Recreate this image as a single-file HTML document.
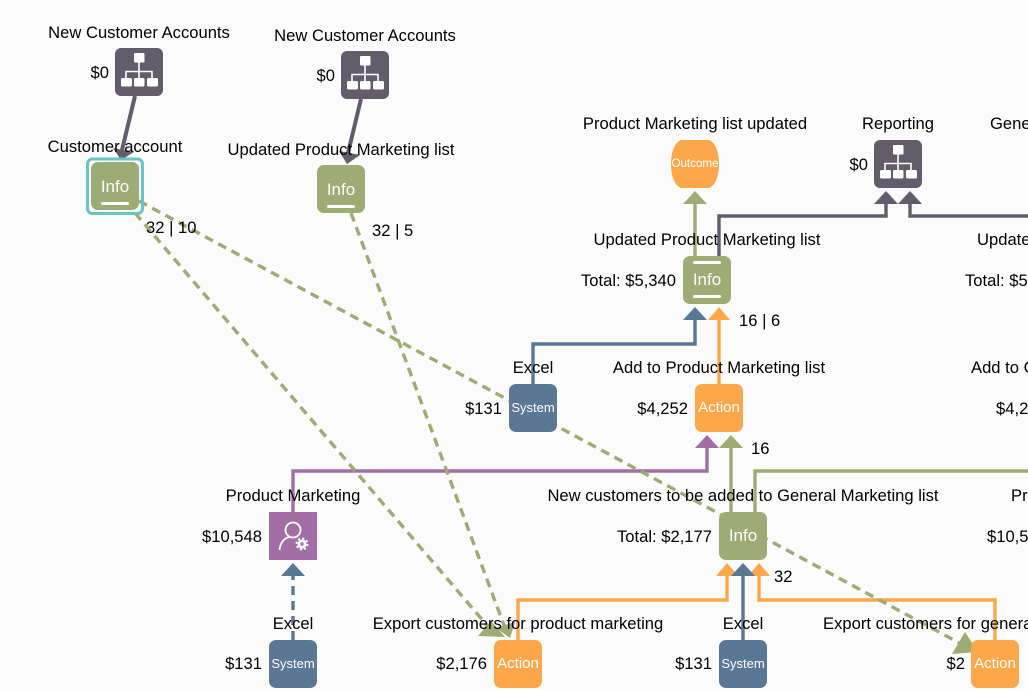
<!DOCTYPE html>
<html><head><meta charset="utf-8"><style>
html,body{margin:0;padding:0;background:#fbfbfb;width:1028px;height:691px;overflow:hidden}
svg{display:block}
text{font-family:"Liberation Sans",Arial,sans-serif;font-size:16.6px;fill:#000}
.m{text-anchor:middle}.e{text-anchor:end}
.w{fill:#fff;text-anchor:middle}
.l{fill:none;stroke-width:3.4}
.d{fill:none;stroke:#9dac75;stroke-width:3.4;stroke-dasharray:9 6}
</style></head><body>
<svg width="1028" height="691" viewBox="0 0 1028 691" xmlns="http://www.w3.org/2000/svg">
<defs>
<g id="h"><rect width="48" height="48" rx="6" fill="#635d6b"/>
<path d="M24 14V30M11 31V23.5H37V31" fill="none" stroke="#fff" stroke-width="1.6"/>
<g fill="#fff"><rect x="19" y="5" width="10.500" height="9.500" rx="1"/><rect x="6" y="30" width="11" height="8.500" rx="1.500"/><rect x="19" y="30" width="10.500" height="8.500" rx="1.500"/><rect x="32" y="30" width="11" height="8.500" rx="1.500"/></g></g>
</defs>
<!-- solid connectors -->
<g class="l">
<path d="M135 96L122 150" stroke="#635d6b" style="stroke-width:4" fill="none"/>
<path d="M361 99L348 153" stroke="#635d6b" style="stroke-width:4" fill="none"/>
<path d="M695 256V203" stroke="#9dac75" fill="none"/>
<path d="M719 256V216H886V203M1028 216H910V203" stroke="#635d6b" fill="none"/>
<path d="M533 384V344H695V319" stroke="#587896" fill="none"/>
<path d="M719 384V319" stroke="#fda74b" fill="none"/>
<path d="M293 512V471H707V447" stroke="#a26ea5" fill="none"/>
<path d="M731 512V447" stroke="#9dac75" fill="none"/>
<path d="M755 512V471H1028" stroke="#9dac75" fill="none"/>
<path d="M518 640V600H727V575" stroke="#fda74b" fill="none"/>
<path d="M743 640V575" stroke="#587896" fill="none"/>
<path d="M995 640V600H759V575" stroke="#fda74b" fill="none"/>
<path d="M293 640V575" stroke="#587896" fill="none" stroke-dasharray="9 6"/>
</g>
<!-- dashed connectors -->
<path class="d" d="M139 201L963 645"/>
<path class="d" d="M135 213L491 630"/>
<path class="d" d="M351 213L505 628"/>
<!-- arrowheads -->
<polygon points="113,148 134,152 121,160" fill="#635d6b"/>
<polygon points="339,151 360,155 347,164" fill="#635d6b"/>
<polygon points="695,191 707,204 683,204" fill="#9dac75"/>
<polygon points="886,191 898,204 874,204" fill="#635d6b"/>
<polygon points="910,191 922,204 898,204" fill="#635d6b"/>
<polygon points="695,307 707,320 683,320" fill="#587896"/>
<polygon points="719,307 730,320 708,320" fill="#fda74b"/>
<polygon points="707,435 719,448 695,448" fill="#a26ea5"/>
<polygon points="731,435 743,448 719,448" fill="#9dac75"/>
<polygon points="293,563 305,576 281,576" fill="#587896"/>
<polygon points="727,563 738,576 716,576" fill="#fda74b"/>
<polygon points="759,563 770,576 748,576" fill="#fda74b"/>
<polygon points="743,563 755,576 731,576" fill="#587896"/>
<polygon points="478,636 491,621 505,637" fill="#9dac75"/>
<polygon points="496,628 515,622 510,638" fill="#9dac75"/>
<polygon points="965,632 952,654 978,652" fill="#9dac75"/>
<!-- nodes -->
<use href="#h" x="115" y="48"/>
<use href="#h" x="341" y="51"/>
<use href="#h" x="874" y="140"/>
<rect x="87.500" y="159" width="55" height="54.500" rx="5" fill="none" stroke="#67c6c4" stroke-width="3"/>
<rect x="91" y="162" width="48" height="48" rx="7" fill="#9dac75"/>
<rect x="101" y="202" width="28" height="3" rx="1.500" fill="#fff"/>
<text class="w" x="115" y="192" style="font-size:17px">Info</text>
<rect x="317" y="165" width="48" height="48" rx="7" fill="#9dac75"/>
<rect x="327" y="205" width="28" height="3" rx="1.500" fill="#fff"/>
<text class="w" x="341" y="195" style="font-size:17px">Info</text>
<path d="M681 140H709C716 143 719 153 719 164C719 175 716 185 709 188H681C674 185 671 175 671 164C671 153 674 143 681 140Z" fill="#fda74b"/>
<text class="w" x="695" y="167" style="font-size:11.6px">Outcome</text>
<rect x="683" y="256" width="48" height="48" rx="7" fill="#9dac75"/>
<rect x="693" y="261" width="28" height="3" rx="1.500" fill="#fff"/>
<rect x="693" y="295" width="28" height="3" rx="1.500" fill="#fff"/>
<text class="w" x="707" y="285" style="font-size:17px">Info</text>
<rect x="509" y="384" width="48" height="48" rx="7" fill="#587896"/>
<text class="w" x="533" y="412" style="font-size:13px">System</text>
<rect x="695" y="384" width="48" height="48" rx="7" fill="#fda74b"/>
<text class="w" x="719" y="412" style="font-size:15px">Action</text>
<rect x="269" y="512" width="48" height="48" fill="#a26ea5"/>
<circle cx="293" cy="530" r="7.500" fill="none" stroke="#fff" stroke-width="1.800"/>
<path d="M279.500 550C280 543 284 538.500 289 537" fill="none" stroke="#fff" stroke-width="1.800"/>
<circle cx="302" cy="544" r="4.600" fill="#fff"/>
<circle cx="302" cy="544" r="5.600" fill="none" stroke="#fff" stroke-width="1.800" stroke-dasharray="2.200 2.200"/>
<circle cx="302" cy="544" r="1.700" fill="#a26ea5"/>
<rect x="719" y="512" width="48" height="48" rx="7" fill="#9dac75"/>
<text class="w" x="743" y="541" style="font-size:17px">Info</text>
<rect x="269" y="640" width="48" height="48" rx="7" fill="#587896"/>
<text class="w" x="293" y="668" style="font-size:13px">System</text>
<rect x="494" y="640" width="48" height="48" rx="7" fill="#fda74b"/>
<text class="w" x="518" y="668" style="font-size:15px">Action</text>
<rect x="719" y="640" width="48" height="48" rx="7" fill="#587896"/>
<text class="w" x="743" y="668" style="font-size:13px">System</text>
<rect x="971" y="640" width="48" height="48" rx="7" fill="#fda74b"/>
<text class="w" x="995" y="668" style="font-size:15px">Action</text>
<!-- labels -->
<text class="m" x="139" y="38">New Customer Accounts</text>
<text class="e" x="109" y="78">$0</text>
<text class="m" x="365" y="41">New Customer Accounts</text>
<text class="e" x="335" y="81">$0</text>
<text class="m" x="115" y="152">Customer account</text>
<text class="m" x="341" y="155">Updated Product Marketing list</text>
<text x="146" y="233">32 | 10</text>
<text x="372" y="236">32 | 5</text>
<text class="m" x="695" y="129">Product Marketing list updated</text>
<text class="m" x="898" y="129">Reporting</text>
<text class="e" x="868" y="170">$0</text>
<text x="990" y="129">General Marketing list updated</text>
<text class="m" x="707" y="245">Updated Product Marketing list</text>
<text x="977" y="245">Updated General Marketing list</text>
<text class="e" x="676" y="286">Total: $5,340</text>
<text x="965" y="286">Total: $5,340</text>
<text x="739" y="326">16 | 6</text>
<text class="m" x="533" y="373">Excel</text>
<text class="m" x="719" y="373">Add to Product Marketing list</text>
<text x="971" y="373">Add to General Marketing list</text>
<text class="e" x="502" y="414">$131</text>
<text class="e" x="688" y="414">$4,252</text>
<text x="996" y="414">$4,252</text>
<text x="751" y="454">16</text>
<text class="m" x="293" y="501">Product Marketing</text>
<text class="m" x="743" y="501">New customers to be added to General Marketing list</text>
<text x="1011" y="501">Product Marketing</text>
<text class="e" x="262" y="542">$10,548</text>
<text class="e" x="712" y="542">Total: $2,177</text>
<text x="987" y="542">$10,548</text>
<text x="774" y="582">32</text>
<text class="m" x="293" y="629">Excel</text>
<text class="m" x="518" y="629">Export customers for product marketing</text>
<text class="m" x="743" y="629">Excel</text>
<text x="823" y="629">Export customers for general marketing</text>
<text class="e" x="262" y="669">$131</text>
<text class="e" x="487" y="669">$2,176</text>
<text class="e" x="712" y="669">$131</text>
<text class="e" x="965" y="669">$2</text>
</svg>
</body></html>
